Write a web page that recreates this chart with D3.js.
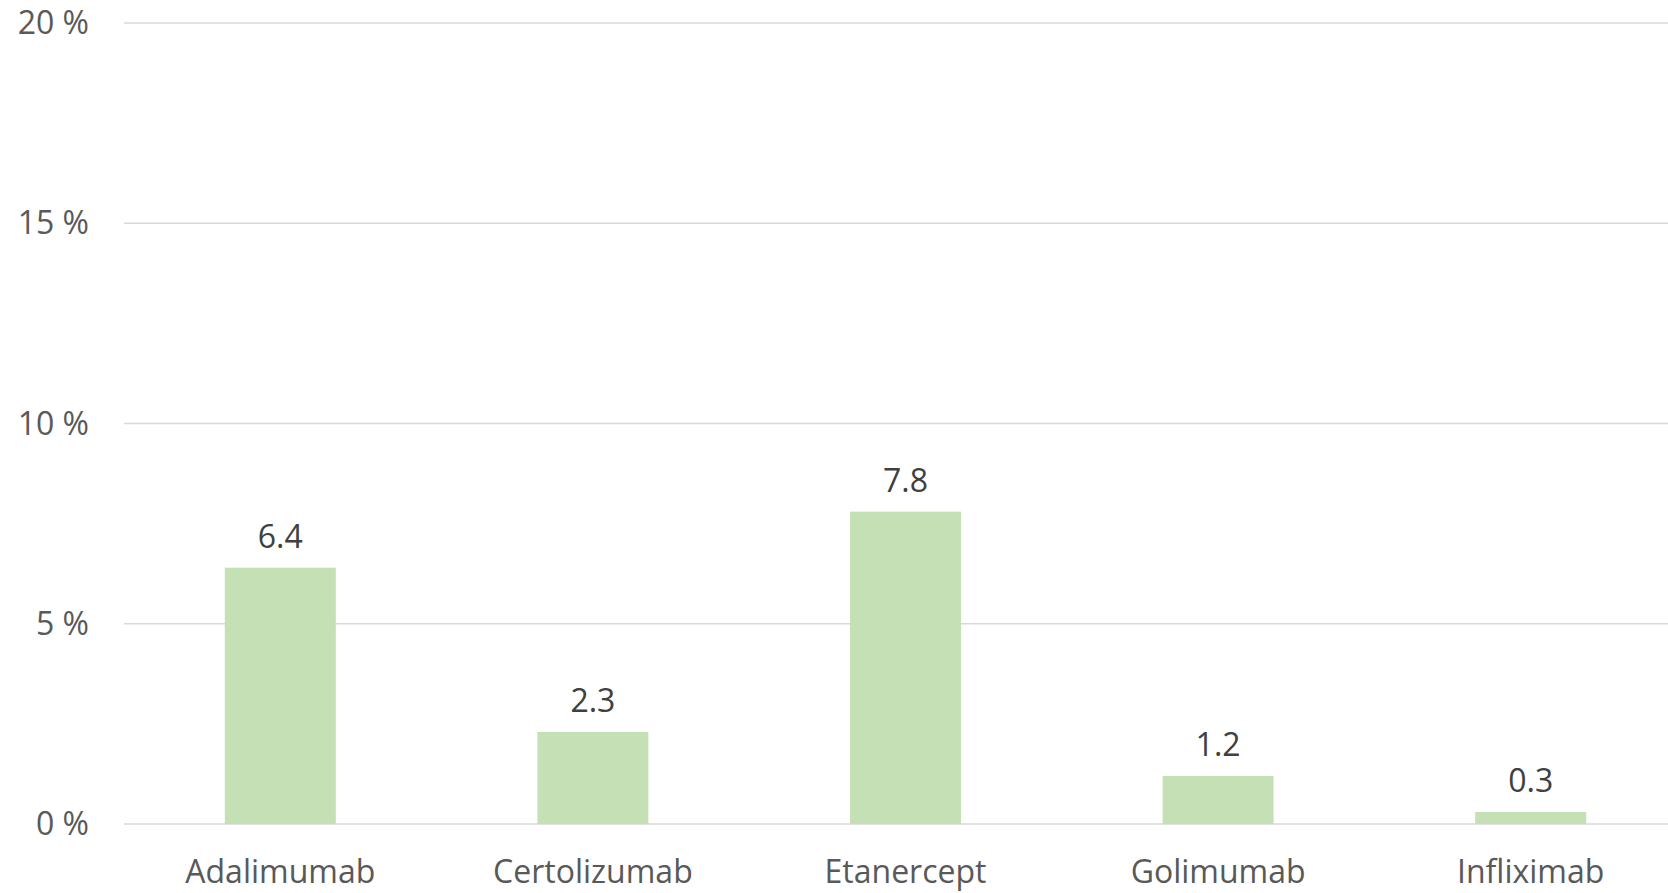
<!DOCTYPE html>
<html>
<head>
<meta charset="utf-8">
<script src="https://cdn.jsdelivr.net/npm/d3@7"></script>
<style>
  body { margin: 0; background: #fff; overflow: hidden; }
  text { font-family: "Open Sans", "Noto Sans", sans-serif; }
</style>
</head>
<body>
<script>
// Data
const drugs = ["Adalimumab", "Certolizumab", "Etanercept", "Golimumab", "Infliximab"];
const rates = [6.4, 2.3, 7.8, 1.2, 0.3];
const yTicks = [0, 5, 10, 15, 20];

const W = 1668, H = 893;
const margin = { top: 23, right: -19, bottom: 69, left: 124 };
const width = W - margin.left - margin.right;
const height = H - margin.top - margin.bottom;

const svg = d3.select("body")
    .append("svg")
    .attr("width", W)
    .attr("height", H)
    .append("g")
    .attr("transform", `translate(${margin.left},${margin.top})`);

const x = d3.scaleBand()
    .domain(drugs)
    .range([0, width])
    .paddingInner(0.645)
    .paddingOuter(0.3225);

const y = d3.scaleLinear()
    .domain([0, 20])
    .range([height, 0]);

// Gridlines
svg.selectAll(".grid")
    .data(yTicks)
    .enter()
    .append("line")
    .attr("x1", 0)
    .attr("x2", width)
    .attr("y1", d => y(d))
    .attr("y2", d => y(d))
    .style("stroke", "#d9d9d9")
    .style("stroke-width", 1.5);

// Y tick labels
svg.selectAll(".ytick")
    .data(yTicks)
    .enter()
    .append("text")
    .attr("x", -35)
    .attr("y", d => y(d))
    .attr("dy", "0.35em")
    .style("text-anchor", "end")
    .style("font-size", "32px")
    .style("fill", "#595959")
    .text(d => d + " %");

// Bars
svg.selectAll(".bar")
    .data(rates)
    .enter()
    .append("rect")
    .attr("x", (d, i) => x(drugs[i]))
    .attr("y", d => y(d))
    .attr("width", x.bandwidth())
    .attr("height", d => y(0) - y(d))
    .style("fill", "#c5e0b4");

// Value labels
svg.selectAll(".val")
    .data(rates)
    .enter()
    .append("text")
    .attr("x", (d, i) => x(drugs[i]) + x.bandwidth() / 2)
    .attr("y", d => y(d) - 20)
    .style("text-anchor", "middle")
    .style("font-size", "32px")
    .style("fill", "#404040")
    .text(d => d.toFixed(1));

// Category labels
svg.selectAll(".cat")
    .data(drugs)
    .enter()
    .append("text")
    .attr("x", d => x(d) + x.bandwidth() / 2)
    .attr("y", height + 59)
    .style("text-anchor", "middle")
    .style("font-size", "32px")
    .style("fill", "#595959")
    .text(d => d);
</script>
</body>
</html>
